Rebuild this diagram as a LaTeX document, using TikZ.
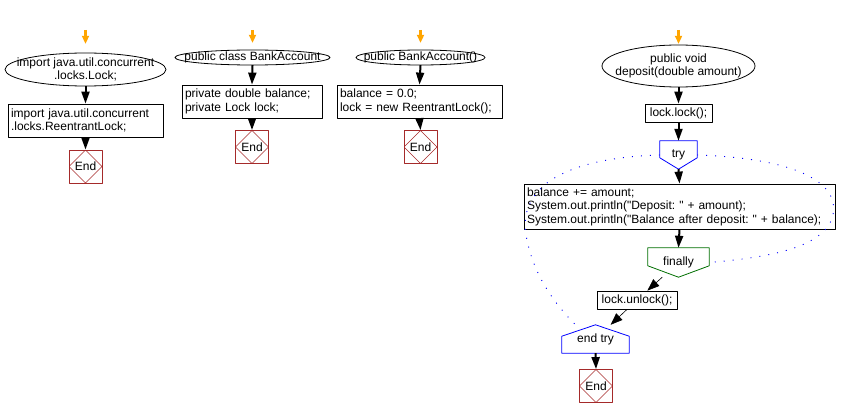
\documentclass[tikz,border=0pt]{standalone}
\usepackage{fontspec}
\setmainfont{Liberation Sans}[Ligatures=TeXOff]
\usepackage{xcolor}
\usetikzlibrary{arrows.meta,calc}

\definecolor{endred}{RGB}{165,42,42}
\definecolor{trygreen}{RGB}{0,110,0}
\definecolor{startorange}{RGB}{255,165,0}

\tikzset{
  txt/.style={font=\fontsize{12pt}{13.5pt}\selectfont\frenchspacing},
  flow/.style={-{Triangle[width=8pt,length=12pt]},line width=2pt},
  slant/.style={-{Triangle[width=9pt,length=12pt]},line width=0.6pt},
  entry/.style={-{Triangle[width=7pt,length=8pt]},line width=3.5pt,startorange},
  oval/.style={txt,rectangle,inner sep=0pt,align=center},
  stepbox/.style={txt,draw,line width=0.8pt,rectangle,inner xsep=3pt,inner ysep=0pt,align=left},
  endbox/.style={txt,draw=endred,line width=0.8pt,minimum size=33pt,inner sep=0pt,
    path picture={\draw[endred,line width=0.5pt] (path picture bounding box.north)
      -- (path picture bounding box.east) -- (path picture bounding box.south)
      -- (path picture bounding box.west) -- cycle;}},
  loopline/.style={blue,line width=0.9pt,dash pattern=on 1pt off 8pt},
}

\begin{document}
\begin{tikzpicture}[x=1pt,y=-1pt,line join=round]
  \useasboundingbox (0,0) rectangle (850,417);

  % column 1: imports
  \coordinate (in1) at (85.5,30);
  \node[oval,minimum width=161pt,minimum height=33pt] (imp) at (85.5,69.5) {import java.util.concurrent\\.locks.Lock;};
  \draw[line width=0.8pt] (imp.center) ellipse [x radius=80.5, y radius=16.5];
  \node[stepbox,text width=149pt,minimum height=33pt] (impre) at (85.5,120.5) {import java.util.concurrent\\.locks.ReentrantLock;};
  \node[endbox] (end1) at (85.5,166.5) {End};
  \draw[entry] (in1) -- (imp.north) [shorten >=9pt];
  \draw[flow] (imp.south) -- (impre.north);
  \draw[flow] (impre.south) -- (end1.north);

  % column 2: class
  \coordinate (in2) at (252.5,30);
  \node[oval,minimum width=155pt,minimum height=15pt] (cls) at (252.5,57.5) {public class BankAccount};
  \draw[line width=0.8pt] (cls.center) ellipse [x radius=77.5, y radius=7.5];
  \node[stepbox,text width=134pt,minimum height=33pt] (fld) at (252,101.5) {private double balance;\\private Lock lock;};
  \node[endbox] (end2) at (252,147) {End};
  \draw[entry] (in2) -- (cls.north) [shorten >=7pt];
  \draw[flow] (cls.south) -- (fld.north);
  \draw[flow] (fld.south) -- (end2.north);

  % column 3: constructor
  \coordinate (in3) at (420.5,30);
  \node[oval,minimum width=129pt,minimum height=15pt] (ctor) at (420.5,57.5) {public BankAccount()};
  \draw[line width=0.8pt] (ctor.center) ellipse [x radius=64.5, y radius=7.5];
  \node[stepbox,text width=159pt,minimum height=33pt] (init) at (419.5,101.5) {balance = 0.0;\\lock = new ReentrantLock();};
  \node[endbox] (end3) at (420.5,147) {End};
  \draw[entry] (in3) -- (ctor.north) [shorten >=7pt];
  \draw[flow] (ctor.south) -- (init.north);
  \draw[flow] (init.south) -- (end3.north);

  % column 4: deposit
  \coordinate (in4) at (678.5,30);
  \node[oval,minimum width=153pt,minimum height=42pt] (dep) at (678.5,66) {public void\\deposit(double amount)};
  \draw[line width=0.8pt] (dep.center) ellipse [x radius=76.5, y radius=21];
  \node[stepbox,align=center,minimum width=67pt,minimum height=18pt] (lck) at (678.5,113) {lock.lock();};
  \node[txt,minimum width=37pt,minimum height=28pt,inner sep=0pt] (try) at (678.5,155) {try};
  \draw[blue,line width=0.8pt] (try.north west) -- (try.north east) -- ++(0,17) -- (try.south)
    -- ($(try.north west)+(0,17)$) -- cycle;
  \node[stepbox,text width=305pt,minimum height=45pt] (body) at (679.5,206.5) {balance += amount;\\System.out.println("Deposit: " + amount);\\System.out.println("Balance after deposit: " + balance);};
  \node[txt,minimum width=61pt,minimum height=29pt,inner sep=0pt] (fin) at (678.5,262.5) {finally};
  \draw[trygreen,line width=0.8pt] (fin.north west) -- (fin.north east) -- ++(0,18) -- (fin.south)
    -- ($(fin.north west)+(0,18)$) -- cycle;
  \node[stepbox,align=center,minimum width=80pt,minimum height=18pt] (unl) at (637,300) {lock.unlock();};
  \node[txt,minimum width=67pt,minimum height=28pt,inner sep=0pt] (etry) at (595.5,339) {end try};
  \draw[blue,line width=0.8pt] (etry.south west) -- (etry.south east) -- ++(0,-17) -- (etry.north)
    -- ($(etry.south west)+(0,-17)$) -- cycle;
  \node[endbox] (end4) at (596,386) {End};
  \coordinate (loopend) at ($(etry.north west)!0.5!(etry.north)+(0,3)$);

  \draw[entry] (in4) -- (dep.north) [shorten >=1pt];
  \draw[flow] (dep.south) -- (lck.north);
  \draw[flow] (lck.south) -- (try.north);
  \draw[flow] (try.south) -- (body.north);
  \draw[flow] (body.south) -- (fin.north);
  \draw[slant] (fin) -- (unl);
  \draw[slant] (unl) -- (etry);
  \draw[flow] (etry.south) -- (end4.north);

  % try block outline
  \draw[loopline] (try.west) .. controls (560,158) and (515,190) .. (527,240)
    .. controls (535,280) and (560,310) .. (loopend);
  \draw[loopline] (try.east) .. controls (790,158) and (840,180) .. (833,215)
    .. controls (825,250) and (760,258) .. (fin.east);
\end{tikzpicture}
\end{document}
